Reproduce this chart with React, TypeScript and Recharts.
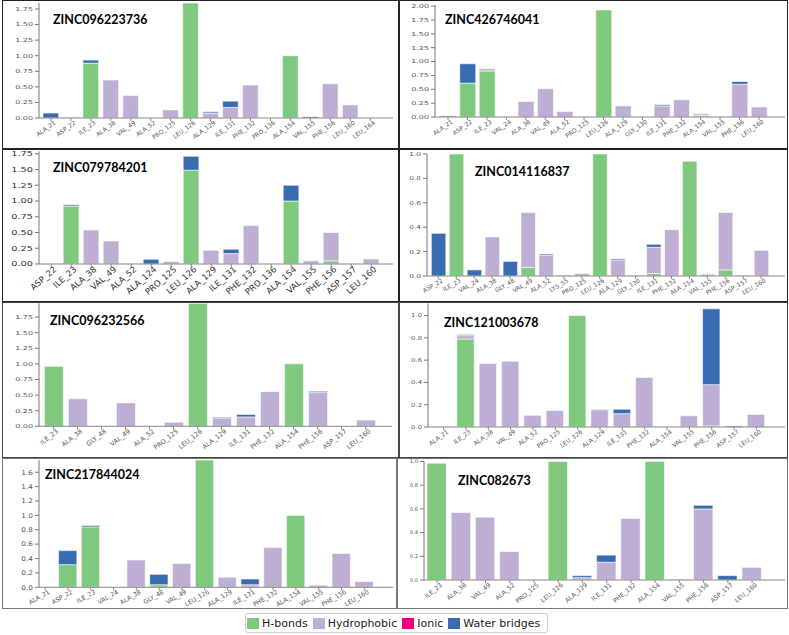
import React from "react";
import { BarChart, Bar, XAxis, YAxis } from "recharts";

const GREEN = "#7fc97f";
const PURPLE = "#beaed4";
const PINK = "#f0027f";
const BLUE = "#386cb0";

// ZINC096223736
const P1_RES = ["ALA_21", "ASP_22", "ILE_23", "ALA_38", "VAL_49", "ALA_52", "PRO_125", "LEU_126", "ALA_129", "ILE_131", "PHE_132", "PRO_136", "ALA_154", "VAL_155", "PHE_156", "LEU_160", "LEU_164"];
const P1_HB = [0, 0, 0.88, 0, 0, 0, 0, 1.9, 0, 0, 0, 0, 1.0, 0, 0, 0, 0];
const P1_HY = [0, 0, 0, 0.61, 0.36, 0, 0.13, 0, 0.08, 0.17, 0.53, 0, 0, 0, 0.55, 0.21, 0];
const P1_WB = [0.08, 0.01, 0.05, 0, 0, 0, 0, 0, 0.02, 0.1, 0, 0, 0, 0.02, 0, 0, 0];

// ZINC426746041
const P2_RES = ["ALA_21", "ASP_22", "ILE_23", "VAL_24", "ALA_38", "VAL_49", "ALA_52", "PRO_125", "LEU_126", "ALA_129", "GLY_130", "ILE_131", "PHE_132", "ALA_154", "VAL_155", "PHE_156", "LEU_160"];
const P2_HB = [0, 0.61, 0.83, 0, 0, 0, 0, 0, 1.93, 0, 0, 0, 0, 0.03, 0, 0, 0];
const P2_HY = [0, 0, 0.04, 0.01, 0.28, 0.51, 0.1, 0, 0, 0.2, 0, 0.2, 0.31, 0.03, 0, 0.59, 0.18];
const P2_WB = [0.02, 0.35, 0, 0, 0, 0, 0, 0, 0, 0, 0, 0.02, 0, 0, 0, 0.05, 0];

// ZINC079784201
const P3_RES = ["ASP_22", "ILE_23", "ALA_38", "VAL_49", "ALA_52", "ALA_124", "PRO_125", "LEU_126", "ALA_129", "ILE_131", "PHE_132", "PRO_136", "ALA_154", "VAL_155", "PHE_156", "ASP_157", "LEU_160"];
const P3_HB = [0, 0.92, 0, 0, 0, 0, 0, 1.49, 0, 0, 0, 0, 1.0, 0, 0.05, 0, 0];
const P3_HY = [0, 0, 0.54, 0.365, 0.005, 0, 0.04, 0, 0.22, 0.165, 0.61, 0, 0, 0.05, 0.45, 0, 0.08];
const P3_WB = [0, 0.02, 0, 0, 0, 0.075, 0, 0.22, 0, 0.07, 0, 0, 0.25, 0, 0, 0, 0];

// ZINC014116837
const P4_RES = ["ASP_22", "ILE_23", "VAL_24", "ALA_38", "GLY_48", "VAL_49", "ALA_52", "LYS_55", "PRO_125", "LEU_126", "ALA_129", "GLY_130", "ILE_131", "PHE_132", "ALA_154", "VAL_155", "PHE_156", "ASP_157", "LEU_160"];
const P4_HB = [0, 1.0, 0, 0, 0, 0.07, 0, 0, 0, 1.0, 0, 0, 0.02, 0, 0.94, 0, 0.05, 0, 0];
const P4_HY = [0, 0, 0, 0.32, 0, 0.45, 0.17, 0, 0.02, 0, 0.13, 0, 0.215, 0.38, 0, 0.015, 0.47, 0, 0.21];
const P4_WB = [0.35, 0, 0.05, 0, 0.12, 0, 0.01, 0.005, 0, 0, 0.01, 0.004, 0.025, 0, 0, 0, 0, 0.005, 0];

// ZINC096232566
const P5_RES = ["ILE_23", "ALA_38", "GLY_48", "VAL_49", "ALA_52", "PRO_125", "LEU_126", "ALA_129", "ILE_131", "PHE_132", "ALA_154", "PHE_156", "ASP_157", "LEU_160"];
const P5_HB = [0.96, 0, 0, 0, 0, 0, 2.0, 0, 0, 0, 1.0, 0, 0, 0];
const P5_HY = [0, 0.44, 0, 0.375, 0.005, 0.065, 0, 0.13, 0.15, 0.555, 0, 0.54, 0, 0.1];
const P5_WB = [0, 0, 0, 0, 0, 0, 0, 0.015, 0.04, 0, 0, 0.02, 0, 0];

// ZINC121003678
const P6_RES = ["ALA_21", "ILE_23", "ALA_38", "VAL_49", "ALA_52", "PRO_125", "LEU_126", "ALA_129", "ILE_131", "PHE_132", "ALA_154", "VAL_155", "PHE_156", "ASP_157", "LEU_160"];
const P6_HB = [0, 0.79, 0, 0, 0, 0, 1.0, 0, 0, 0, 0, 0, 0.01, 0, 0];
const P6_HY = [0, 0.03, 0.57, 0.59, 0.105, 0.147, 0, 0.155, 0.12, 0.445, 0.005, 0.1, 0.37, 0, 0.113];
const P6_WB = [0.005, 0.01, 0, 0, 0, 0, 0, 0.005, 0.04, 0, 0, 0, 0.68, 0.01, 0];

// ZINC217844024
const P7_RES = ["ALA_21", "ASP_22", "ILE_23", "VAL_24", "ALA_38", "GLY_48", "VAL_49", "LEU_126", "ALA_129", "ILE_131", "PHE_132", "ALA_154", "VAL_155", "PHE_156", "LEU_160"];
const P7_HB = [0, 0.315, 0.84, 0, 0, 0.035, 0, 1.8, 0, 0, 0, 1.0, 0, 0, 0];
const P7_HY = [0, 0, 0, 0, 0.38, 0, 0.33, 0, 0.14, 0.035, 0.555, 0, 0.03, 0.47, 0.08];
const P7_WB = [0.005, 0.195, 0.02, 0.005, 0, 0.145, 0, 0, 0, 0.08, 0, 0, 0, 0, 0];

// ZINC082673
const P8_RES = ["ILE_23", "ALA_38", "VAL_49", "ALA_52", "PRO_125", "LEU_126", "ALA_129", "ILE_131", "PHE_132", "ALA_154", "VAL_155", "PHE_156", "ASP_157", "LEU_160"];
const P8_HB = [0.985, 0, 0, 0, 0, 1.0, 0, 0, 0, 1.0, 0, 0, 0, 0];
const P8_HY = [0, 0.57, 0.53, 0.24, 0, 0, 0.02, 0.15, 0.52, 0, 0, 0.6, 0, 0.107];
const P8_WB = [0, 0, 0, 0, 0, 0, 0.017, 0.06, 0, 0, 0.005, 0.03, 0.037, 0];

const TICKS_175 = [0, 0.25, 0.5, 0.75, 1.0, 1.25, 1.5, 1.75];
const TICKS_200 = [0, 0.25, 0.5, 0.75, 1.0, 1.25, 1.5, 1.75, 2.0];
const TICKS_10 = [0, 0.2, 0.4, 0.6, 0.8, 1.0];
const TICKS_16 = [0, 0.2, 0.4, 0.6, 0.8, 1.0, 1.2, 1.4, 1.6];

const LEGEND = [
  { name: "H-bonds", color: GREEN },
  { name: "Hydrophobic", color: PURPLE },
  { name: "Ionic", color: PINK },
  { name: "Water bridges", color: BLUE },
];

interface PanelProps {
  title: string;
  res: string[];
  hb: number[];
  hy: number[];
  wb: number[];
  yMax: number;
  yTicks: number[];
  yDigits: number;
  box: number[]; // x, y, w, h
  plot: number[]; // left, top, right, bottom (page coords)
  xLim: number[];
  bar: number;
  xFont: number;
  xAngle: number;
  yFont: number;
  ySx: number;
  titleAt: number[];
  borderColor?: string;
  labelColor?: string;
}

const Panel: React.FC<PanelProps> = (p) => {
  const [bx, by, bw, bh] = p.box;
  const [l, t, r, b] = p.plot;
  const data = p.res.map((name, i) => ({ i, name, hb: p.hb[i], hy: p.hy[i], wb: p.wb[i] }));
  const yW = l - bx;
  const xH = by + bh - b;

  const xTick = (props: any) => {
    const { x, y, payload } = props;
    const label = p.res[payload.value] ?? "";
    return (
      <g transform={`translate(${x + 4},${y + 1})`}>
        <text
          x={0}
          y={0}
          dy={p.xFont * 0.35}
          textAnchor="end"
          transform={`rotate(-${p.xAngle})`}
          fontSize={p.xFont}
          fill={p.labelColor ?? "#555"}
          fontFamily="DejaVu Sans"
        >
          {label}
        </text>
      </g>
    );
  };

  const yTick = (props: any) => {
    const { x, y, payload } = props;
    return (
      <g transform={`translate(${x},${y}) scale(${p.ySx},1)`}>
        <text x={0} y={0} dy={p.yFont * 0.35} textAnchor="end" fontSize={p.yFont} fill={p.labelColor ?? "#555"} fontFamily="DejaVu Sans">
          {Number(payload.value).toFixed(p.yDigits)}
        </text>
      </g>
    );
  };

  return (
    <>
      <div style={{ position: "absolute", left: bx, top: by, width: bw, height: bh }}>
        <BarChart
          width={bw}
          height={bh}
          data={data}
          margin={{ top: t - by, left: 0, right: bx + bw - r, bottom: 0 }}
        >
          <XAxis
            type="number"
            dataKey="i"
            domain={p.xLim}
            allowDataOverflow
            ticks={p.res.map((_, i) => i)}
            interval={0}
            height={xH}
            tickSize={3}
            tickMargin={0}
            axisLine={{ stroke: "#888" }}
            tickLine={{ stroke: "#888" }}
            tick={xTick}
          />
          <XAxis
            xAxisId="frame"
            type="number"
            dataKey="i"
            orientation="top"
            domain={p.xLim}
            allowDataOverflow
            height={0}
            tick={false}
            tickLine={false}
            axisLine={{ stroke: "#bbb" }}
          />
          <YAxis
            type="number"
            domain={[0, p.yMax]}
            allowDataOverflow
            ticks={p.yTicks}
            interval={0}
            width={yW}
            tickSize={4}
            tickMargin={2}
            axisLine={{ stroke: "#777" }}
            tickLine={{ stroke: "#777" }}
            tick={yTick}
          />
          <YAxis
            yAxisId="frame"
            orientation="right"
            domain={[0, p.yMax]}
            width={0}
            tick={false}
            tickLine={false}
            axisLine={{ stroke: "#bbb" }}
          />
          <Bar dataKey="hb" stackId="s" fill={GREEN} stroke="#fff" strokeWidth={0.6} barSize={p.bar} isAnimationActive={false} />
          <Bar dataKey="hy" stackId="s" fill={PURPLE} stroke="#fff" strokeWidth={0.6} barSize={p.bar} isAnimationActive={false} />
          <Bar dataKey="wb" stackId="s" fill={BLUE} stroke="#fff" strokeWidth={0.6} barSize={p.bar} isAnimationActive={false} />
        </BarChart>
      </div>
      <div
        style={{
          position: "absolute",
          left: bx,
          top: by,
          width: bw,
          height: bh,
          boxSizing: "border-box",
          border: `1px solid ${p.borderColor ?? "#222"}`,
          pointerEvents: "none",
        }}
      />
      <div
        style={{
          position: "absolute",
          left: p.titleAt[0],
          top: p.titleAt[1] - 8,
          fontFamily: "Lato",
          fontWeight: 700,
          fontSize: 12.5,
          lineHeight: "16px",
          color: "#000",
          whiteSpace: "nowrap",
        }}
      >
        {p.title}
      </div>
    </>
  );
};

export default function App() {
  return (
    <div style={{ position: "absolute", left: 0, top: 0, width: 789, height: 635, background: "#fff", overflow: "hidden" }}>
      <Panel title="ZINC096223736" res={P1_RES} hb={P1_HB} hy={P1_HY} wb={P1_WB}
        yMax={1.846} yTicks={TICKS_175} yDigits={2}
        box={[2, 0, 397, 149]} plot={[39, 3, 393, 118]} xLim={[-0.6, 17.14]} bar={15.7}
        xFont={6} xAngle={36} yFont={5.5} ySx={1.45} titleAt={[53, 20]} />
      <Panel title="ZINC426746041" res={P2_RES} hb={P2_HB} hy={P2_HY} wb={P2_WB}
        yMax={2.02} yTicks={TICKS_200} yDigits={2}
        box={[399, 0, 389, 149]} plot={[435, 5, 785, 117]} xLim={[-0.67, 17.34]} bar={16}
        xFont={6} xAngle={35} yFont={5.5} ySx={1.45} titleAt={[445, 20]} />
      <Panel title="ZINC079784201" res={P3_RES} hb={P3_HB} hy={P3_HY} wb={P3_WB}
        yMax={1.79} yTicks={TICKS_175} yDigits={2}
        box={[2, 149, 397, 153]} plot={[39, 151.3, 393, 264]} xLim={[-0.61, 17.09]} bar={15.7}
        xFont={8.5} xAngle={41} yFont={7} ySx={1.4} titleAt={[53, 168]} labelColor="#333" />
      <Panel title="ZINC014116837" res={P4_RES} hb={P4_HB} hy={P4_HY} wb={P4_WB}
        yMax={1.0} yTicks={TICKS_10} yDigits={1}
        box={[399, 149, 389, 153]} plot={[427, 154, 785, 276]} xLim={[-0.63, 19.33]} bar={14.5}
        xFont={6} xAngle={30} yFont={5.5} ySx={1.34} titleAt={[475, 172]} />
      <Panel title="ZINC096232566" res={P5_RES} hb={P5_HB} hy={P5_HY} wb={P5_WB}
        yMax={1.97} yTicks={TICKS_175} yDigits={2}
        box={[2, 302, 397, 156]} plot={[39, 303.3, 392, 426.3]} xLim={[-0.6, 14.1]} bar={19}
        xFont={6.5} xAngle={38} yFont={5.5} ySx={1.45} titleAt={[50, 321]} borderColor="#444" />
      <Panel title="ZINC121003678" res={P6_RES} hb={P6_HB} hy={P6_HY} wb={P6_WB}
        yMax={1.11} yTicks={TICKS_10} yDigits={1}
        box={[399, 302, 389, 156]} plot={[428, 303.3, 785, 427]} xLim={[-0.7, 15.28]} bar={17.4}
        xFont={6} xAngle={36} yFont={5.5} ySx={1.25} titleAt={[444, 323]} borderColor="#444" />
      <Panel title="ZINC217844024" res={P7_RES} hb={P7_HB} hy={P7_HY} wb={P7_WB}
        yMax={1.77} yTicks={TICKS_16} yDigits={1}
        box={[2, 458, 395, 151]} plot={[39, 460, 393, 587.3]} xLim={[-0.27, 15.26]} bar={18.3}
        xFont={6.2} xAngle={30} yFont={6.5} ySx={1.13} titleAt={[45, 475]} borderColor="#777" />
      <Panel title="ZINC082673" res={P8_RES} hb={P8_HB} hy={P8_HY} wb={P8_WB}
        yMax={1.0} yTicks={TICKS_10} yDigits={1}
        box={[397, 458, 391, 151]} plot={[424, 461.5, 785, 580]} xLim={[-0.54, 14.36]} bar={19.4}
        xFont={6.2} xAngle={40} yFont={5} ySx={1.05} titleAt={[458, 481]} borderColor="#777" />

      <div
        style={{
          position: "absolute",
          left: 245,
          top: 613,
          height: 20,
          boxSizing: "border-box",
          border: "1px solid #ccc",
          borderRadius: 3,
          display: "flex",
          alignItems: "center",
          padding: "0 2px 0 1px",
          fontFamily: "DejaVu Sans",
          fontSize: 11,
          color: "#222",
          background: "#fff",
        }}
      >
        {LEGEND.map((item) => (
          <div key={item.name} style={{ display: "flex", alignItems: "center", marginRight: 5 }}>
            <span style={{ width: 12, height: 11, background: item.color, marginRight: 3, display: "inline-block" }} />
            <span>{item.name}</span>
          </div>
        ))}
      </div>
    </div>
  );
}
